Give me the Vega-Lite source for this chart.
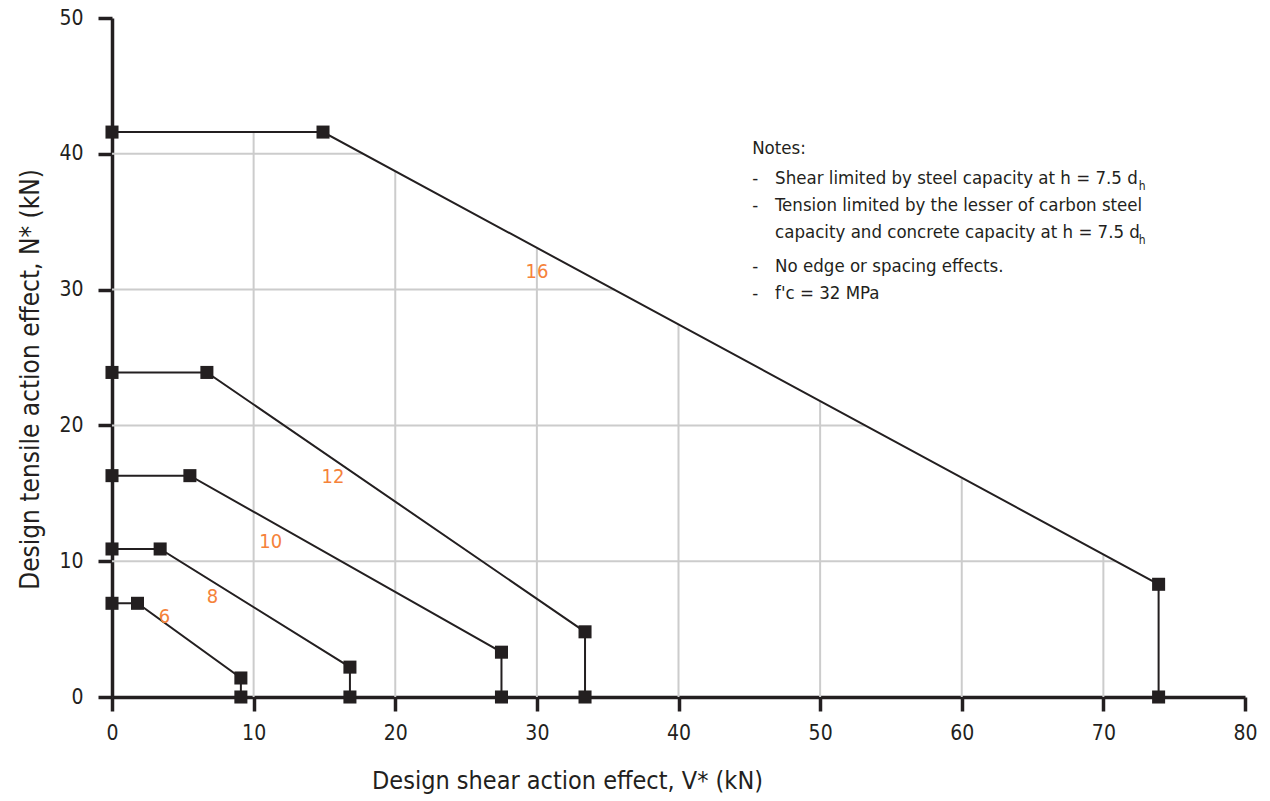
{
  "$schema": "https://vega.github.io/schema/vega-lite/v6.json",
  "autosize": {"type": "none"},
  "padding": {"left": 112, "top": 18, "right": 25, "bottom": 104},
  "width": 1133,
  "height": 679,
  "background": "white",
  "config": {
    "view": {"stroke": null},
    "font": "DejaVu Sans Condensed, Roboto",
    "axis": {
      "grid": false,
      "domainColor": "#231f20",
      "domainWidth": 3.5,
      "tickColor": "#231f20",
      "tickWidth": 3.5,
      "tickSize": 14,
      "labelFlush": false,
      "labelFont": "DejaVu Sans Condensed, Roboto",
      "labelFontSize": 21,
      "labelColor": "#231f20",
      "titleFont": "DejaVu Sans Condensed, Roboto",
      "titleFontSize": 26,
      "titleFontWeight": "normal",
      "titleColor": "#231f20"
    }
  },
  "datasets": {
    "series": [
      {"size": "6", "ord": 1, "v": 0, "n": 6.9},
      {"size": "6", "ord": 2, "v": 1.8, "n": 6.9},
      {"size": "6", "ord": 3, "v": 9.1, "n": 1.4},
      {"size": "6", "ord": 4, "v": 9.1, "n": 0},
      {"size": "8", "ord": 1, "v": 0, "n": 10.9},
      {"size": "8", "ord": 2, "v": 3.4, "n": 10.9},
      {"size": "8", "ord": 3, "v": 16.8, "n": 2.2},
      {"size": "8", "ord": 4, "v": 16.8, "n": 0},
      {"size": "10", "ord": 1, "v": 0, "n": 16.3},
      {"size": "10", "ord": 2, "v": 5.5, "n": 16.3},
      {"size": "10", "ord": 3, "v": 27.5, "n": 3.3},
      {"size": "10", "ord": 4, "v": 27.5, "n": 0},
      {"size": "12", "ord": 1, "v": 0, "n": 23.9},
      {"size": "12", "ord": 2, "v": 6.7, "n": 23.9},
      {"size": "12", "ord": 3, "v": 33.4, "n": 4.8},
      {"size": "12", "ord": 4, "v": 33.4, "n": 0},
      {"size": "16", "ord": 1, "v": 0, "n": 41.6},
      {"size": "16", "ord": 2, "v": 14.9, "n": 41.6},
      {"size": "16", "ord": 3, "v": 73.9, "n": 8.3},
      {"size": "16", "ord": 4, "v": 73.9, "n": 0}
    ],
    "labels": [
      {"lab": "16", "lx": 30.0, "ly": 31.3},
      {"lab": "12", "lx": 15.6, "ly": 16.2},
      {"lab": "10", "lx": 11.2, "ly": 11.4},
      {"lab": "8", "lx": 7.1, "ly": 7.4},
      {"lab": "6", "lx": 3.7, "ly": 5.9}
    ],
    "vgrid": [
      {"gx": 10, "g0": 0, "gy2": 41.6},
      {"gx": 20, "g0": 0, "gy2": 38.7},
      {"gx": 30, "g0": 0, "gy2": 33.0},
      {"gx": 40, "g0": 0, "gy2": 27.4},
      {"gx": 50, "g0": 0, "gy2": 21.8},
      {"gx": 60, "g0": 0, "gy2": 16.1},
      {"gx": 70, "g0": 0, "gy2": 10.5}
    ],
    "hgrid": [
      {"hy": 10, "h0": 0, "hx2": 70.9},
      {"hy": 20, "h0": 0, "hx2": 53.2},
      {"hy": 30, "h0": 0, "hx2": 35.5},
      {"hy": 40, "h0": 0, "hx2": 17.7}
    ],
    "notes": [
      {"nx": 45.2, "ny": 40.43, "note": "Notes:"},
      {"nx": 45.2, "ny": 38.22, "note": "-"},
      {"nx": 46.82, "ny": 38.22, "note": "Shear limited by steel capacity at h = 7.5 d"},
      {"nx": 45.2, "ny": 36.23, "note": "-"},
      {"nx": 46.82, "ny": 36.23, "note": "Tension limited by the lesser of carbon steel"},
      {"nx": 46.82, "ny": 34.24, "note": "capacity and concrete capacity at h = 7.5 d"},
      {"nx": 45.2, "ny": 31.74, "note": "-"},
      {"nx": 46.82, "ny": 31.74, "note": "No edge or spacing effects."},
      {"nx": 45.2, "ny": 29.75, "note": "-"},
      {"nx": 46.82, "ny": 29.75, "note": "f'c = 32 MPa"}
    ],
    "subs": [
      {"sx": 72.5, "sy": 37.63, "sub": "h"},
      {"sx": 72.5, "sy": 33.65, "sub": "h"}
    ]
  },
  "layer": [
    {
      "data": {"name": "vgrid"},
      "mark": {"type": "rule", "color": "#cccccc", "strokeWidth": 2},
      "encoding": {
        "x": {"field": "gx", "type": "quantitative", "scale": {"domain": [0, 80]},
          "axis": {"values": [0, 10, 20, 30, 40, 50, 60, 70, 80], "labelPadding": 11,
            "title": "Design shear action effect, V* (kN)", "titleX": 455, "titleY": 83,
            "titleFontSize": 25,
            "titleAlign": "center", "titleBaseline": "middle"}},
        "y": {"field": "g0", "type": "quantitative", "scale": {"domain": [0, 50]},
          "axis": {"values": [0, 10, 20, 30, 40, 50], "labelPadding": 15,
            "title": "Design tensile action effect, N* (kN)", "titleX": -82, "titleY": 361,
            "titleAlign": "center", "titleBaseline": "middle", "titleAngle": -90}},
        "y2": {"field": "gy2"}
      }
    },
    {
      "data": {"name": "hgrid"},
      "mark": {"type": "rule", "color": "#cccccc", "strokeWidth": 2},
      "encoding": {
        "y": {"field": "hy", "type": "quantitative"},
        "x": {"field": "h0", "type": "quantitative"},
        "x2": {"field": "hx2"}
      }
    },
    {
      "data": {"name": "series"},
      "mark": {"type": "line", "color": "#231f20", "strokeWidth": 2},
      "encoding": {
        "x": {"field": "v", "type": "quantitative"},
        "y": {"field": "n", "type": "quantitative"},
        "detail": {"field": "size"},
        "order": {"field": "ord", "type": "quantitative"}
      }
    },
    {
      "data": {"name": "series"},
      "mark": {"type": "point", "shape": "square", "filled": true, "color": "#231f20", "size": 170, "opacity": 1},
      "encoding": {
        "x": {"field": "v", "type": "quantitative"},
        "y": {"field": "n", "type": "quantitative"}
      }
    },
    {
      "data": {"name": "labels"},
      "mark": {"type": "text", "color": "#f5823a", "fontSize": 20, "align": "center", "baseline": "middle"},
      "encoding": {
        "x": {"field": "lx", "type": "quantitative"},
        "y": {"field": "ly", "type": "quantitative"},
        "text": {"field": "lab"}
      }
    },
    {
      "data": {"name": "notes"},
      "mark": {"type": "text", "color": "#231f20", "fontSize": 18.5, "align": "left", "baseline": "middle"},
      "encoding": {
        "x": {"field": "nx", "type": "quantitative"},
        "y": {"field": "ny", "type": "quantitative"},
        "text": {"field": "note"}
      }
    },
    {
      "data": {"name": "subs"},
      "mark": {"type": "text", "color": "#231f20", "fontSize": 12, "align": "left", "baseline": "middle"},
      "encoding": {
        "x": {"field": "sx", "type": "quantitative"},
        "y": {"field": "sy", "type": "quantitative"},
        "text": {"field": "sub"}
      }
    }
  ]
}
